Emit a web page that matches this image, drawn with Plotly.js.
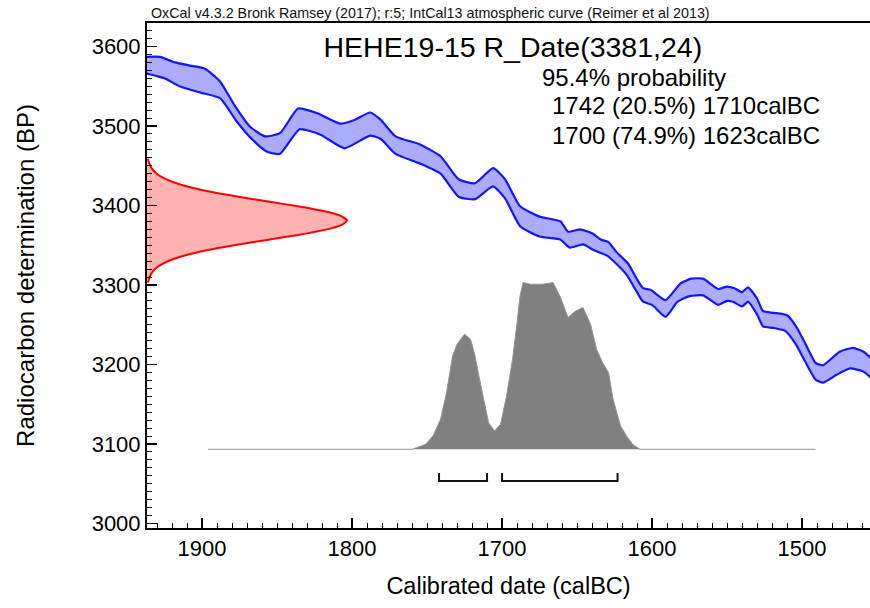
<!DOCTYPE html>
<html>
<head>
<meta charset="utf-8">
<script src="https://cdn.plot.ly/plotly-3.0.1.min.js"></script>
<style>html,body{margin:0;padding:0;background:#fff}#chart{width:870px;height:608px}</style>
</head>
<body>
<div id="chart"></div>
<script>
// IntCal13 band (upper / lower 1-sigma edges)
const upperYears = [1937,1928,1918,1908,1898,1888,1878,1868,1858,1848,1836,1823,1808,1798,1788,1781,1771,1755,1741,1729,1718,1706,1698,1688,1675,1661,1656,1648,1640,1634,1629,1624,1616,1610,1606,1601,1591,1581,1574,1566,1556,1550,1545,1540,1536,1530,1526,1519,1510,1504,1498,1491,1486,1475,1466,1459,1454];
const upperBP = [3587,3587,3580,3576,3572,3556,3525,3499,3487,3491,3522,3516,3503,3508,3517,3508,3487,3477,3462,3433,3428,3447,3433,3399,3386,3380,3367,3370,3365,3357,3354,3342,3327,3307,3296,3294,3281,3302,3308,3308,3295,3298,3296,3291,3297,3283,3267,3265,3262,3248,3227,3202,3199,3216,3221,3216,3208];
const lowerYears = [1937,1925,1915,1901,1888,1877,1867,1857,1848,1835,1821,1805,1788,1781,1771,1755,1741,1729,1718,1706,1698,1688,1675,1661,1655,1646,1639,1630,1624,1617,1611,1606,1600,1591,1583,1575,1566,1556,1550,1546,1540,1536,1530,1526,1519,1511,1504,1498,1491,1486,1477,1468,1459,1454];
const lowerBP = [3566,3560,3550,3542,3535,3506,3484,3468,3465,3496,3489,3472,3488,3484,3465,3453,3440,3411,3408,3424,3409,3374,3361,3357,3347,3351,3344,3337,3327,3313,3294,3279,3275,3260,3279,3286,3287,3275,3280,3279,3273,3279,3263,3248,3246,3242,3225,3204,3181,3177,3187,3195,3191,3183];

// Radiocarbon measurement R_Date(3381,24): relative density vs BP
const redBP = [3303,3309,3315,3321,3327,3333,3339,3345,3351,3357,3363,3369,3375,3381,3387,3393,3399,3405,3411,3417,3423,3429,3435,3441,3447,3453,3459];
const redDensity = [0.0051,0.0111,0.0228,0.0439,0.0796,0.1353,0.2163,0.3247,0.4578,0.6065,0.7548,0.8825,0.9692,1,0.9692,0.8825,0.7548,0.6065,0.4578,0.3247,0.2163,0.1353,0.0796,0.0439,0.0228,0.0111,0.0051];

// Calibrated probability distribution (relative)
const histYears = [1896,1760,1757,1751,1746,1741,1737,1733,1730,1725,1721,1718,1715,1711,1709,1705,1701,1697,1693,1690,1688,1686,1681,1677,1673,1666,1661,1656,1651,1646,1641,1637,1633,1629,1626,1621,1617,1613,1608,1600,1491];
const histProb = [0,0,0.01,0.03,0.08,0.18,0.34,0.56,0.63,0.69,0.66,0.56,0.42,0.26,0.16,0.11,0.15,0.32,0.54,0.76,0.92,1.0,0.99,0.99,0.99,1.0,0.91,0.79,0.83,0.85,0.75,0.6,0.52,0.46,0.3,0.14,0.08,0.03,0,0,0];

// 95.4% ranges
const rangeStart = [1742, 1700];
const rangeEnd = [1710, 1623];
const rangePct = ['20.5', '74.9'];

const titleText = 'HEHE19-15 R_Date(3381,24)';
const probText = '95.4% probability';
const creditText = 'OxCal v4.3.2 Bronk Ramsey (2017); r:5; IntCal13 atmospheric curve (Reimer et al 2013)';

const FONT = 'Liberation Sans, Arial, Helvetica, sans-serif';

const bandX = upperYears.concat(lowerYears.slice().reverse());
const bandY = upperBP.concat(lowerBP.slice().reverse());

const traces = [
  {x: bandX, y: bandY, type: 'scatter', mode: 'lines', fill: 'toself',
   fillcolor: 'rgb(172,172,255)', line: {width: 0, shape: 'spline', smoothing: 0.5}, hoverinfo: 'skip'},
  {x: upperYears, y: upperBP, type: 'scatter', mode: 'lines',
   line: {color: 'rgb(20,20,255)', width: 2.2, shape: 'spline', smoothing: 0.5}},
  {x: lowerYears, y: lowerBP, type: 'scatter', mode: 'lines',
   line: {color: 'rgb(20,20,255)', width: 2.2, shape: 'spline', smoothing: 0.5}},
  {x: redDensity, y: redBP, xaxis: 'x2', yaxis: 'y', type: 'scatter', mode: 'lines',
   fill: 'tozerox', fillcolor: 'rgba(255,0,0,0.3)',
   line: {color: 'rgb(255,0,0)', width: 2, shape: 'spline', smoothing: 0.6}},
  {x: histYears, y: histProb, xaxis: 'x', yaxis: 'y2', type: 'scatter', mode: 'lines',
   fill: 'tozeroy', fillcolor: 'rgb(128,128,128)',
   line: {color: 'rgb(150,150,150)', width: 1}}
];

const shapes = rangeStart.map((s, i) => ({
  type: 'path', xref: 'x', yref: 'paper',
  path: `M ${s},0.109 L ${s},0.093 L ${rangeEnd[i]},0.093 L ${rangeEnd[i]},0.109`,
  line: {color: 'rgb(20,20,20)', width: 2}
}));

const annotations = [
  {text: creditText, xref: 'paper', yref: 'paper', x: 0.003, y: 1.0198, xanchor: 'left', yanchor: 'middle',
   showarrow: false, font: {family: FONT, size: 14.3, color: '#111'}},
  {text: probText, xref: 'paper', yref: 'paper', x: 0.5436, y: 0.893, xanchor: 'left', yanchor: 'middle',
   showarrow: false, font: {family: FONT, size: 24, color: '#000'}}
].concat(rangeStart.map((s, i) => ({
  text: `${s} (${rangePct[i]}%) ${rangeEnd[i]}calBC`, xref: 'paper', yref: 'paper',
  x: 0.5574, y: 0.8366 - i * 0.0594, xanchor: 'left', yanchor: 'middle',
  showarrow: false, font: {family: FONT, size: 24, color: '#000'}
})));

const layout = {
  width: 870, height: 608,
  margin: {l: 147, r: 0, t: 23, b: 80, pad: 0},
  paper_bgcolor: '#fff', plot_bgcolor: '#fff',
  showlegend: false,
  font: {family: FONT, color: '#000'},
  title: {text: titleText, font: {family: FONT, size: 28.5, color: '#000'},
          xref: 'container', x: 0.5895, xanchor: 'center', yref: 'container', y: 1 - 47.5/608, yanchor: 'middle'},
  xaxis: {range: [1936.7, 1454.7], autorange: false, showline: true, linecolor: '#000', linewidth: 2, mirror: true,
          ticks: 'inside', ticklen: 10, tickwidth: 1.5, tickcolor: '#000', tick0: 1500, dtick: 100,
          tickfont: {family: FONT, size: 22, color: '#000'}, showgrid: false, zeroline: false,
          minor: {dtick: 10, ticks: 'inside', ticklen: 5, tickwidth: 1, tickcolor: '#000', showgrid: false},
          title: {text: 'Calibrated date (calBC)', font: {family: FONT, size: 23.5, color: '#000'}, standoff: 17}},
  yaxis: {range: [2994.3, 3629.6], autorange: false, showline: true, linecolor: '#000', linewidth: 2,
          ticks: 'inside', ticklen: 10, tickwidth: 1.5, tickcolor: '#000', tick0: 3000, dtick: 100,
          tickfont: {family: FONT, size: 22, color: '#000'}, showgrid: false, zeroline: false,
          minor: {dtick: 10, ticks: 'inside', ticklen: 5, tickwidth: 1, tickcolor: '#000', showgrid: false},
          title: {text: 'Radiocarbon determination (BP)', font: {family: FONT, size: 24, color: '#000'}, standoff: 50}},
  xaxis2: {overlaying: 'x', anchor: 'y', range: [0, 3.615], autorange: false, visible: false},
  yaxis2: {overlaying: 'y', anchor: 'x', range: [-0.472, 2.557], autorange: false, visible: false},
  shapes: shapes,
  annotations: annotations
};

Plotly.newPlot('chart', traces, layout, {displayModeBar: false, staticPlot: true});
</script>
</body>
</html>
